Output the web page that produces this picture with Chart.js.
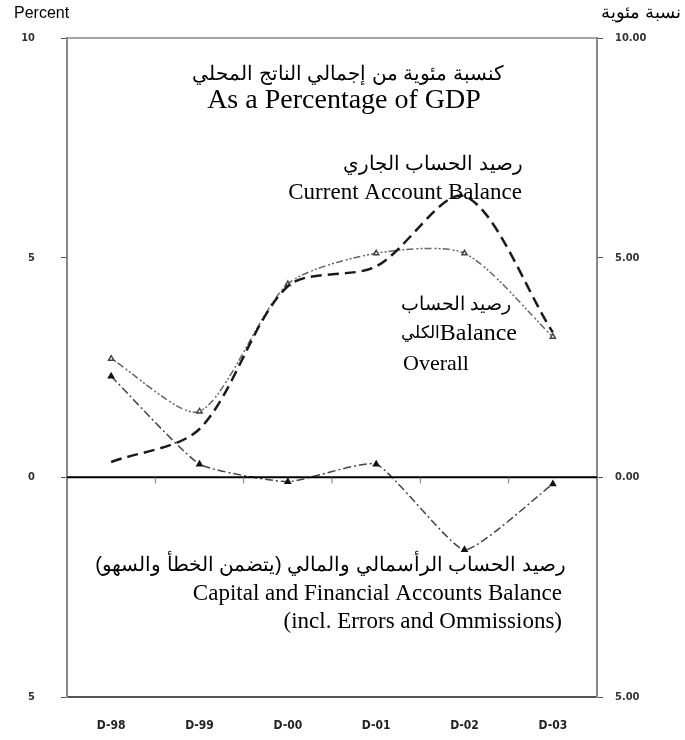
<!DOCTYPE html>
<html>
<head>
<meta charset="utf-8">
<script src="https://cdn.jsdelivr.net/npm/chart.js@4.4.1/dist/chart.umd.min.js"></script>
<style>
  html, body { margin: 0; padding: 0; background: #fff; }
  #wrap { position: relative; width: 685px; height: 740px; }
</style>
</head>
<body>
<div id="wrap"><canvas id="chartBalances" width="685" height="740"></canvas></div>
<script>
const categorias = ['D-98', 'D-99', 'D-00', 'D-01', 'D-02', 'D-03'];
const cuentaCorriente = [0.35, 1.1, 4.35, 4.8, 6.4, 3.3];
const balanceGeneral = [2.7, 1.5, 4.4, 5.1, 5.1, 3.2];
const cuentaCapital = [2.3, 0.3, -0.1, 0.3, -1.65, -0.15];
const ticksIzq = { '10': '10', '5': '5', '0': '0', '-5': '5' };
const ticksDer = { '10': '10.00', '5': '5.00', '0': '0.00', '-5': '5.00' };

const serif = '"Liberation Serif", "Times New Roman", serif';
const sans = '"Liberation Sans", Arial, sans-serif';
const narrow = '"Liberation Sans Narrow", "DejaVu Sans Condensed", Arial, sans-serif';

// textos, borde superior y linea de cero
const anotaciones = {
    id: 'anotaciones',
    afterDatasetsDraw(chart) {
        const { ctx, chartArea, scales } = chart;
        const y0 = scales.y.getPixelForValue(0);
        ctx.save();
        ctx.strokeStyle = '#888';
        ctx.lineWidth = 1.5;
        ctx.beginPath();
        ctx.moveTo(chartArea.left, chartArea.top);
        ctx.lineTo(chartArea.right, chartArea.top);
        ctx.stroke();

        ctx.strokeStyle = '#000';
        ctx.lineWidth = 2;
        ctx.beginPath();
        ctx.moveTo(chartArea.left, y0);
        ctx.lineTo(chartArea.right, y0);
        ctx.stroke();

        // marcas entre categorias sobre la linea de cero
        ctx.strokeStyle = '#777';
        ctx.lineWidth = 1;
        for (let i = 0; i < categorias.length - 1; i++) {
            const x = (scales.x.getPixelForValue(i) + scales.x.getPixelForValue(i + 1)) / 2;
            ctx.beginPath();
            ctx.moveTo(x, y0);
            ctx.lineTo(x, y0 + 6);
            ctx.stroke();
        }

        ctx.fillStyle = '#000';
        ctx.textBaseline = 'middle';

        ctx.font = '16px ' + sans;
        ctx.textAlign = 'left';
        ctx.fillText('Percent', 14, 14);
        ctx.textAlign = 'right';
        ctx.font = '18px ' + sans;
        ctx.fillText('نسبة مئوية', 681, 13);

        ctx.textAlign = 'center';
        ctx.font = '20px ' + sans;
        ctx.fillText('كنسبة مئوية من إجمالي الناتج المحلي', 348, 74);
        ctx.font = '28px ' + serif;
        ctx.fillText('As a Percentage of GDP', 344, 101);

        ctx.textAlign = 'right';
        ctx.font = '20px ' + sans;
        ctx.fillText('رصيد الحساب الجاري', 523, 164);
        ctx.font = '23px ' + serif;
        ctx.fillText('Current Account Balance', 522, 193);

        ctx.font = '19px ' + sans;
        ctx.fillText('رصيد الحساب', 511, 305);
        ctx.font = '24px ' + serif;
        ctx.fillText('Balance', 517, 334);
        const anchoBal = ctx.measureText('Balance').width;
        ctx.font = '17px ' + sans;
        ctx.fillText('الكلي', 517 - anchoBal, 333);
        ctx.textAlign = 'left';
        ctx.font = '22px ' + serif;
        ctx.fillText('Overall', 403, 364);

        ctx.textAlign = 'right';
        ctx.font = '20px ' + sans;
        ctx.fillText('رصيد الحساب الرأسمالي والمالي (يتضمن الخطأ والسهو)', 566, 565);
        ctx.font = '23px ' + serif;
        ctx.fillText('Capital and Financial Accounts Balance', 562, 594);
        ctx.fillText('(incl. Errors and Ommissions)', 562, 622);
        ctx.restore();
    }
};

const ctx = document.getElementById('chartBalances').getContext('2d');

new Chart(ctx, {
    type: 'line',
    data: {
        labels: categorias,
        datasets: [
            {
                label: 'Current Account Balance',
                data: cuentaCorriente,
                borderColor: '#1a1a1a',
                borderWidth: 2.5,
                borderDash: [11, 6],
                pointRadius: 0,
                tension: 0.3
            },
            {
                label: 'Overall Balance',
                data: balanceGeneral,
                borderColor: '#666',
                borderWidth: 1.5,
                borderDash: [2, 2, 2, 2, 7, 3],
                pointStyle: 'triangle',
                pointRadius: 3,
                pointBackgroundColor: '#fff',
                pointBorderColor: '#444',
                tension: 0.25
            },
            {
                label: 'Capital and Financial Accounts Balance',
                data: cuentaCapital,
                borderColor: '#444',
                borderWidth: 1.5,
                borderDash: [8, 3, 2, 3],
                pointStyle: 'triangle',
                pointRadius: 3,
                pointBackgroundColor: '#111',
                pointBorderColor: '#111',
                tension: 0.15
            }
        ]
    },
    options: {
        responsive: false,
        animation: false,
        layout: { padding: { top: 38, left: 0, right: 0, bottom: 0 } },
        plugins: {
            legend: { display: false },
            tooltip: { enabled: false }
        },
        scales: {
            x: {
                offset: true,
                grid: { display: false, drawTicks: false },
                border: { color: '#555', width: 2 },
                ticks: { color: '#222', font: { family: narrow, size: 12, weight: 'bold' }, padding: 22 },
                afterFit(s) { s.height = 43; }
            },
            y: {
                position: 'left',
                min: -5,
                max: 10,
                grid: { drawOnChartArea: false, tickLength: 6, color: '#555' },
                border: { color: '#888', width: 2 },
                ticks: {
                    stepSize: 5,
                    color: '#333',
                    font: { family: narrow, size: 11, weight: 'bold' },
                    padding: 26,
                    callback: v => ticksIzq[String(v)]
                },
                afterFit(s) { s.width = 67; }
            },
            y2: {
                position: 'right',
                min: -5,
                max: 10,
                grid: { drawOnChartArea: false, tickLength: 6, color: '#555' },
                border: { color: '#888', width: 2 },
                ticks: {
                    stepSize: 5,
                    color: '#333',
                    font: { family: narrow, size: 11, weight: 'bold' },
                    padding: 12,
                    callback: v => ticksDer[String(v)]
                },
                afterFit(s) { s.width = 88; }
            }
        }
    },
    plugins: [anotaciones]
});
</script>
</body>
</html>
